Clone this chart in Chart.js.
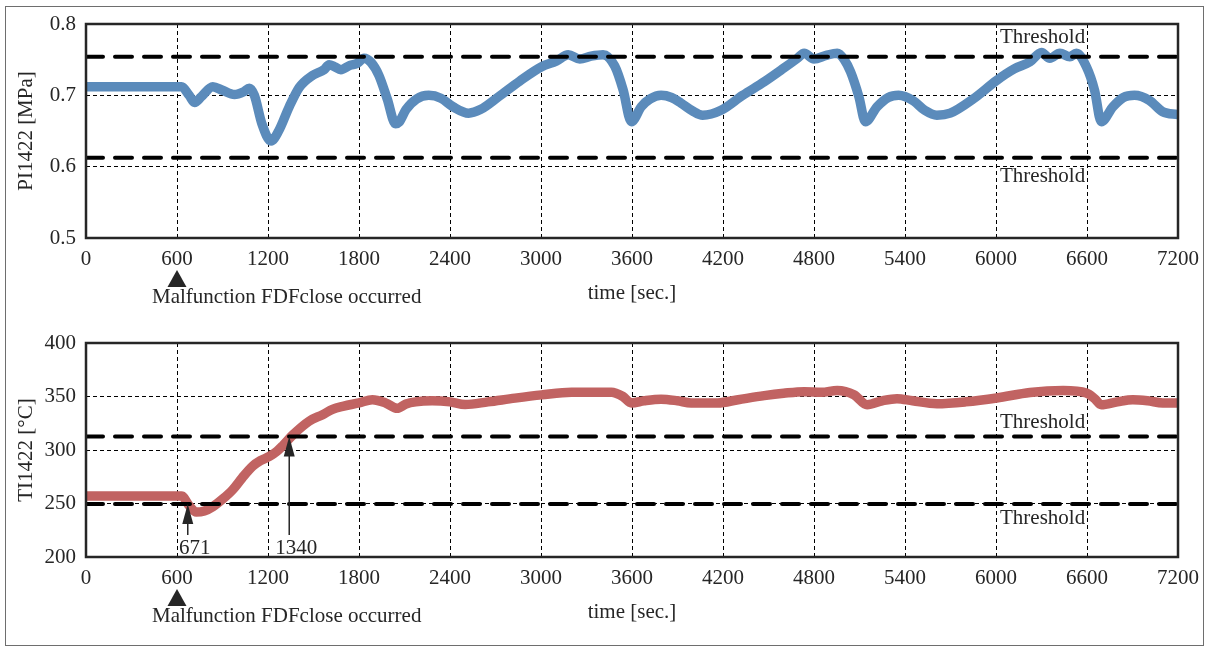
<!DOCTYPE html>
<html>
<head>
<meta charset="utf-8">
<script src="https://cdn.jsdelivr.net/npm/chart.js@4.4.1/dist/chart.umd.min.js"></script>
<style>
  html, body { margin: 0; padding: 0; background: #fff; }
  #wrap { position: relative; width: 1208px; height: 648px; overflow: hidden; }
  #frame { position: absolute; left: 5px; top: 6px; width: 1197px; height: 638px; border: 1.5px solid #6e6e6e; }
  canvas { position: absolute; left: 0; }
  #cP { top: 0; }
  #cT { top: 320px; }
</style>
</head>
<body>
<div id="wrap">
  <div id="frame"></div>
  <canvas id="cP" width="1208" height="320"></canvas>
  <canvas id="cT" width="1208" height="328"></canvas>
</div>
<script>
// time axis
const xTicks = [0, 600, 1200, 1800, 2400, 3000, 3600, 4200, 4800, 5400, 6000, 6600, 7200];

// PI1422 pressure trace [MPa]
const pTime = [0, 300, 630, 680, 716, 760, 836, 900, 979, 1040, 1077, 1110, 1160, 1220, 1270, 1340, 1406, 1494, 1570, 1603,
  1640, 1680, 1740, 1789, 1833, 1880, 1931, 1986, 2041, 2063, 2110, 2180, 2260, 2340, 2420, 2523, 2600, 2720, 2860, 3004,
  3100, 3180, 3256, 3330, 3409, 3486, 3541, 3596, 3661, 3720, 3792, 3860, 3924, 4000, 4066, 4187, 4330, 4472, 4600, 4691,
  4735, 4800, 4880, 4953, 5000, 5041, 5096, 5139, 5216, 5290, 5358, 5457, 5530, 5610, 5698, 5850, 6005, 6120, 6224, 6300,
  6355, 6421, 6487, 6530, 6596, 6650, 6694, 6771, 6840, 6913, 7011, 7099, 7200];
const pValue = [0.712, 0.712, 0.712, 0.700, 0.690, 0.698, 0.712, 0.707, 0.701, 0.705, 0.710, 0.700, 0.660, 0.636, 0.650, 0.684, 0.711, 0.728, 0.736, 0.743,
  0.740, 0.736, 0.742, 0.745, 0.752, 0.746, 0.728, 0.695, 0.660, 0.662, 0.680, 0.695, 0.700, 0.696, 0.684, 0.675, 0.680, 0.698, 0.720, 0.740,
  0.748, 0.757, 0.751, 0.755, 0.757, 0.741, 0.708, 0.663, 0.684, 0.695, 0.700, 0.697, 0.689, 0.678, 0.672, 0.679, 0.700, 0.719, 0.738, 0.752,
  0.759, 0.751, 0.756, 0.759, 0.750, 0.733, 0.698, 0.663, 0.684, 0.697, 0.700, 0.692, 0.679, 0.672, 0.675, 0.695, 0.721, 0.737, 0.747, 0.760,
  0.752, 0.759, 0.754, 0.759, 0.740, 0.707, 0.663, 0.684, 0.697, 0.700, 0.693, 0.677, 0.673];
const pThresholds = [0.754, 0.6125];

// TI1422 temperature trace [°C]
const tTime = [0, 300, 630, 680, 727, 780, 836, 900, 968, 1030, 1100, 1150, 1209, 1260, 1297, 1363, 1472, 1560, 1625, 1700,
  1800, 1888, 1975, 2052, 2110, 2173, 2282, 2400, 2500, 2650, 2829, 3004, 3201, 3350, 3464, 3540, 3596, 3680, 3792, 3900,
  3989, 4165, 4300, 4472, 4600, 4735, 4850, 4953, 5063, 5150, 5250, 5347, 5450, 5610, 5800, 6005, 6224, 6443, 6596, 6650,
  6694, 6800, 6902, 7000, 7099, 7200];
const tValue = [257, 257, 257, 248, 242, 243, 247, 254, 263, 274, 285, 290, 294, 299, 304, 314, 327, 333, 338, 341,
  344, 347, 344, 339, 343, 345, 346, 345, 342.5, 345, 348.5, 351.5, 354, 354, 354, 350, 344, 346, 347.5, 346,
  344, 344, 347, 350.8, 353, 354.5, 354, 355.7, 351.7, 342.3, 346, 348, 346, 343.3, 345, 348.6, 353.8, 355.7, 353.3, 348,
  342.3, 345, 347, 346, 344, 344];
const tThresholds = [312.7, 249.5];

// fault onset and threshold-crossing times
const faultTime = 600;
const crossTimes = [671, 1340];

const serif = '"Liberation Serif", "Times New Roman", serif';
const ink = '#262626';

const decor = {
  id: 'decor',
  afterDraw(chart, args, o) {
    const { ctx, chartArea: a, scales: { x, y } } = chart;
    ctx.save();
    ctx.fillStyle = ink;
    ctx.strokeStyle = ink;

    // plot box
    ctx.lineWidth = 2.5;
    ctx.strokeRect(a.left, a.top, a.right - a.left, a.bottom - a.top);

    // y title
    ctx.font = '21px ' + serif;
    ctx.textAlign = 'center';
    ctx.textBaseline = 'middle';
    ctx.save();
    ctx.translate(26, (a.top + a.bottom) / 2);
    ctx.rotate(-Math.PI / 2);
    ctx.fillText(o.yTitle, 0, 0);
    ctx.restore();

    // x title
    ctx.fillText('time [sec.]', (a.left + a.right) / 2, a.bottom + 55);

    // threshold labels
    ctx.textAlign = 'left';
    const lx = x.getPixelForValue(6000) + 4;
    ctx.fillText('Threshold', lx, y.getPixelForValue(o.thresholds[0]) - o.labelGap);
    ctx.fillText('Threshold', lx, y.getPixelForValue(o.thresholds[1]) + o.labelGap);

    // fault marker
    const fx = x.getPixelForValue(faultTime);
    ctx.beginPath();
    ctx.moveTo(fx, a.bottom + 32);
    ctx.lineTo(fx + 9.5, a.bottom + 49);
    ctx.lineTo(fx - 9.5, a.bottom + 49);
    ctx.closePath();
    ctx.fill();
    ctx.fillText('Malfunction FDFclose occurred', fx - 25, a.bottom + 59);

    // crossing arrows
    if (o.arrows) {
      ctx.lineWidth = 1.5;
      crossTimes.forEach((t, i) => {
        const ax = x.getPixelForValue(t);
        const tip = y.getPixelForValue(o.thresholds[1 - i]);
        const base = a.bottom - 22;
        ctx.beginPath();
        ctx.moveTo(ax, base);
        ctx.lineTo(ax, tip + 18);
        ctx.stroke();
        ctx.beginPath();
        ctx.moveTo(ax, tip);
        ctx.lineTo(ax + 5.5, tip + 20);
        ctx.lineTo(ax - 5.5, tip + 20);
        ctx.closePath();
        ctx.fill();
        ctx.textAlign = 'center';
        ctx.fillText(String(t), ax + 7, a.bottom - 9);
      });
    }
    ctx.restore();
  }
};

function thresholdSet(v) {
  return {
    data: [{ x: 0, y: v }, { x: 7200, y: v }],
    borderColor: '#000',
    borderWidth: 4,
    borderDash: [17, 12],
    borderCapStyle: 'round',
    pointRadius: 0
  };
}

function makeChart(id, times, values, color, thresholds, yMin, yMax, yStep, fmt, extra) {
  return new Chart(document.getElementById(id), {
    type: 'line',
    data: {
      datasets: [
        thresholdSet(thresholds[0]),
        thresholdSet(thresholds[1]),
        {
          data: times.map((t, i) => ({ x: t, y: values[i] })),
          borderColor: color,
          borderWidth: 9.5,
          borderCapStyle: 'round',
          borderJoinStyle: 'round',
          cubicInterpolationMode: 'monotone',
          pointRadius: 0
        }
      ]
    },
    options: {
      responsive: false,
      animation: false,
      layout: { padding: { left: 0, right: 25, top: extra.top, bottom: 0 } },
      plugins: {
        legend: { display: false },
        tooltip: { enabled: false },
        decor: { yTitle: extra.yTitle, thresholds: thresholds, labelGap: extra.labelGap, arrows: extra.arrows }
      },
      scales: {
        x: {
          type: 'linear',
          min: 0, max: 7200,
          afterBuildTicks: s => { s.ticks = xTicks.map(v => ({ value: v })); },
          afterFit: s => { s.height = extra.bottom; },
          grid: { color: '#000', lineWidth: 1, drawTicks: false },
          border: { display: false, dash: [4, 3] },
          ticks: { autoSkip: false, maxRotation: 0, padding: 9, color: ink, font: { family: serif, size: 21 },
            callback: v => String(v) }
        },
        y: {
          min: yMin, max: yMax,
          ticks: { stepSize: yStep, padding: 10, color: ink, font: { family: serif, size: 21 }, callback: fmt },
          afterFit: s => { s.width = 86; },
          grid: { color: '#000', lineWidth: 1, drawTicks: false },
          border: { display: false, dash: [4, 3] }
        }
      }
    },
    plugins: [decor]
  });
}

makeChart('cP', pTime, pValue, '#5b8bbb', pThresholds, 0.5, 0.8, 0.1, v => v.toFixed(1),
  { top: 24, bottom: 82, yTitle: 'PI1422 [MPa]', labelGap: 19, arrows: false });
makeChart('cT', tTime, tValue, '#c16362', tThresholds, 200, 400, 50, v => String(v),
  { top: 23, bottom: 91, yTitle: 'TI1422 [°C]', labelGap: 14, arrows: true });
</script>
</body>
</html>
